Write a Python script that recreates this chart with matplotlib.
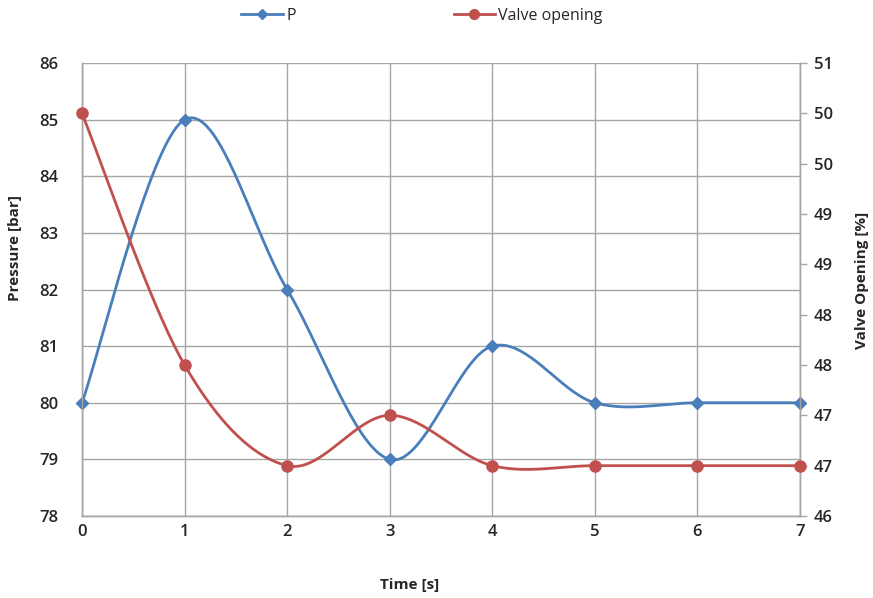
import numpy as np
import matplotlib
matplotlib.use("Agg")
import matplotlib.pyplot as plt
from matplotlib.lines import Line2D

time_s = [0, 1, 2, 3, 4, 5, 6, 7]
pressure_bar = [80, 85, 82, 79, 81, 80, 80, 80]
valve_opening = [50, 47.5, 46.5, 47, 46.5, 46.5, 46.5, 46.5]
left_ticks = [78, 79, 80, 81, 82, 83, 84, 85, 86]
right_ticks = [46, 46.5, 47, 47.5, 48, 48.5, 49, 49.5, 50, 50.5]
right_labels = ["46", "47", "47", "48", "48", "49", "49", "50", "50", "51"]

BLUE = "#4a7ebb"
RED = "#c0504d"
GRID = "#a6a6a6"
TXT = "#262626"

plt.rcParams['font.family'] = ['Open Sans', 'DejaVu Sans']


def smooth(x, y, n=40):
    """Excel-like smoothed line (Catmull-Rom style Bezier)."""
    x = np.asarray(x, float)
    y = np.asarray(y, float)
    px = np.concatenate([[x[0]], x, [x[-1]]])
    py = np.concatenate([[y[0]], y, [y[-1]]])
    xs, ys = [], []
    for i in range(1, len(px) - 2):
        p0 = np.array([px[i - 1], py[i - 1]])
        p1 = np.array([px[i], py[i]])
        p2 = np.array([px[i + 1], py[i + 1]])
        p3 = np.array([px[i + 2], py[i + 2]])
        c1 = p1 + (p2 - p0) / 6.0
        c2 = p2 - (p3 - p1) / 6.0
        t = np.linspace(0, 1, n)[:, None]
        b = ((1 - t) ** 3) * p1 + 3 * ((1 - t) ** 2) * t * c1 + 3 * (1 - t) * t ** 2 * c2 + t ** 3 * p2
        xs.append(b[:, 0])
        ys.append(b[:, 1])
    return np.concatenate(xs), np.concatenate(ys)


fig = plt.figure(figsize=(8.73, 5.98), dpi=100)
ax = fig.add_axes([82 / 873, 1 - 516 / 598, (800 - 82) / 873, (516 - 63) / 598])
ax2 = ax.twinx()

sx, sy = smooth(time_s, pressure_bar)
ax.plot(sx, sy, color=BLUE, lw=2, zorder=3, clip_on=False)
ax.plot(time_s, pressure_bar, ls='none', marker='D', ms=6, color=BLUE, zorder=4, clip_on=False)

vx, vy = smooth(time_s, valve_opening)
ax2.plot(vx, vy, color=RED, lw=2, zorder=3, clip_on=False)
ax2.plot(time_s, valve_opening, ls='none', marker='o', ms=8, color=RED, zorder=4, clip_on=False)

ax.set_xlim(0, 7)
ax.set_ylim(78, 86)
ax2.set_ylim(46, 50.5)
ax.set_xticks(time_s)
ax.set_yticks(left_ticks)
ax2.set_yticks(right_ticks)
ax2.set_yticklabels(right_labels)

ax.grid(True, color=GRID, lw=1)
ax.set_axisbelow(True)
for a in (ax, ax2):
    for s in a.spines.values():
        s.set_color(GRID)
        s.set_linewidth(1)
ax.spines['top'].set_visible(False)
ax2.spines['top'].set_visible(False)

ax.tick_params(axis='y', length=0, pad=17, labelsize=12, colors=TXT)
ax.tick_params(axis='x', length=0, pad=6, labelsize=12, colors=TXT)
ax2.tick_params(axis='y', length=5, width=1, color=GRID, pad=5, labelsize=12, labelcolor=TXT)
for lab in ax.get_xticklabels() + ax.get_yticklabels() + ax2.get_yticklabels():
    lab.set_fontweight('semibold')

fig.text(15 / 873, 1 - 248 / 598, "Pressure [bar]", rotation=90, ha='center', va='center',
         fontsize=11, fontweight='bold', color=TXT)
fig.text(862 / 873, 1 - 280 / 598, "Valve Opening [%]", rotation=90, ha='center', va='center',
         fontsize=11, fontweight='bold', color=TXT)
fig.text(410 / 873, 1 - 585 / 598, "Time [s]", ha='center', va='center',
         fontsize=11, fontweight='bold', color=TXT)

handles = [Line2D([], [], color=BLUE, lw=2, marker='D', ms=5),
           Line2D([], [], color=RED, lw=2, marker='o', ms=7)]
fig.legend(handles, ["P", "Valve opening"], loc='center', bbox_to_anchor=(422 / 873, 1 - 16 / 598),
           ncol=2, frameon=False, fontsize=11.5, handlelength=2.6, handletextpad=0.2,
           columnspacing=9.9, labelcolor=TXT)

fig.savefig("out.png", dpi=100)
